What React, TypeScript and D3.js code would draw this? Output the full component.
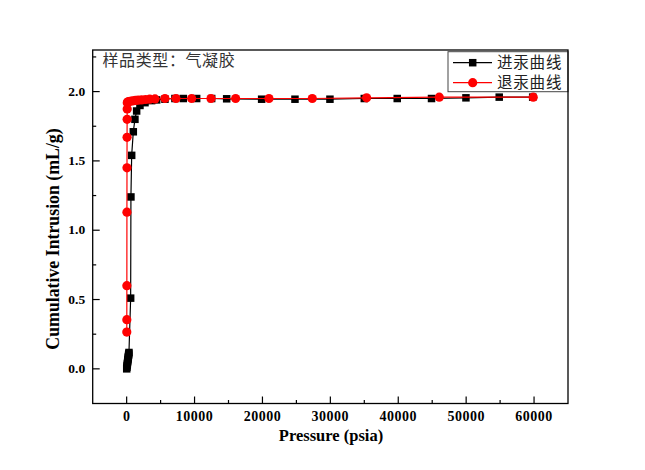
import React from "react";
import * as d3 from "d3";

// Intrusion (pressurising) branch
const intrusionP = [10, 40, 70, 100, 130, 160, 190, 220, 250, 280, 310, 340, 590, 630, 740, 980, 1220, 1470, 1960, 2700, 3680, 4420, 5640, 7110, 8340, 10310, 12520, 14730, 19880, 24790, 29940, 35000, 39850, 44900, 49970, 54870, 59800];
const intrusionV = [0.0, 0.012, 0.024, 0.035, 0.046, 0.057, 0.067, 0.078, 0.088, 0.098, 0.108, 0.118, 0.51, 1.24, 1.54, 1.71, 1.80, 1.86, 1.90, 1.92, 1.935, 1.94, 1.945, 1.95, 1.95, 1.95, 1.95, 1.948, 1.945, 1.945, 1.945, 1.95, 1.95, 1.95, 1.955, 1.96, 1.96];

// Extrusion (depressurising) branch
const extrusionP = [59880, 46040, 35340, 27340, 20960, 16050, 12420, 9570, 7260, 5640, 4170, 3400, 2800, 2210, 1700, 1300, 1000, 750, 500, 300, 150, 90, 80, 70, 60, 50, 40, 30, 25, 20];
const extrusionV = [1.96, 1.96, 1.955, 1.95, 1.95, 1.95, 1.95, 1.95, 1.95, 1.95, 1.947, 1.945, 1.943, 1.94, 1.938, 1.936, 1.934, 1.932, 1.93, 1.928, 1.925, 1.92, 1.875, 1.80, 1.67, 1.45, 1.13, 0.60, 0.355, 0.265];

const xMajorTicks = [0, 10000, 20000, 30000, 40000, 50000, 60000];
const xMinorTicks = [5000, 15000, 25000, 35000, 45000, 55000];
const yMajorTicks = [0, 0.5, 1.0, 1.5, 2.0];
const yMinorTicks = [0.25, 0.75, 1.25, 1.75, 2.25];

const sampleLabel = "样品类型：气凝胶";
const seriesNames = ["进汞曲线", "退汞曲线"];
const xTitle = "Pressure (psia)";
const yTitle = "Cumulative Intrusion (mL/g)";

const W = 645;
const H = 470;
const M = { left: 92.7, right: 568, top: 50, bottom: 403.5 };

export default function App() {
  const x = d3.scaleLinear().domain([-5000, 65000]).range([M.left, M.right]);
  const y = d3.scaleLinear().domain([-0.25, 2.3]).range([M.bottom, M.top]);

  const line = d3
    .line<[number, number]>()
    .x((d) => x(d[0]))
    .y((d) => y(d[1]));

  const intr: [number, number][] = intrusionP.map((p, i) => [p, intrusionV[i]]);
  const extr: [number, number][] = extrusionP.map((p, i) => [p, extrusionV[i]]);

  const serif = "'Times New Roman', 'Liberation Serif', serif";
  const cjk = "'Noto Sans CJK SC', sans-serif";
  const sq = 7.5;

  return (
    <svg
      width={W}
      height={H}
      style={{ position: "absolute", left: 0, top: 0, background: "#fff" }}
    >
      <rect x={0} y={0} width={W} height={H} fill="#fff" />
      <defs>
        <clipPath id="plot-clip">
          <rect x={M.left} y={M.top} width={M.right - M.left} height={M.bottom - M.top} />
        </clipPath>
      </defs>

      {/* ticks on bottom axis */}
      {xMajorTicks.map((t) => (
        <line key={"xM" + t} x1={x(t)} x2={x(t)} y1={M.bottom} y2={M.bottom - 7} stroke="#000" strokeWidth={1.2} />
      ))}
      {xMinorTicks.map((t) => (
        <line key={"xm" + t} x1={x(t)} x2={x(t)} y1={M.bottom} y2={M.bottom - 3.5} stroke="#000" strokeWidth={1.2} />
      ))}
      {xMajorTicks.map((t) => (
        <text key={"xl" + t} x={x(t)} y={M.bottom + 17.5} textAnchor="middle" fontFamily={serif} fontWeight="bold" fontSize={14} letterSpacing={0.5} fill="#000">
          {t}
        </text>
      ))}

      {/* ticks on left axis */}
      {yMajorTicks.map((t) => (
        <line key={"yM" + t} x1={M.left} x2={M.left + 7} y1={y(t)} y2={y(t)} stroke="#000" strokeWidth={1.2} />
      ))}
      {yMinorTicks.map((t) => (
        <line key={"ym" + t} x1={M.left} x2={M.left + 3.5} y1={y(t)} y2={y(t)} stroke="#000" strokeWidth={1.2} />
      ))}
      {yMajorTicks.map((t) => (
        <text key={"yl" + t} x={M.left - 7.5} y={y(t) + 4.2} textAnchor="end" fontFamily={serif} fontWeight="bold" fontSize={13.5} fill="#000">
          {t.toFixed(1)}
        </text>
      ))}

      {/* axis titles */}
      <text x={331} y={440.5} textAnchor="middle" fontFamily={serif} fontWeight="bold" fontSize={16.5} fill="#000">
        {xTitle}
      </text>
      <text
        transform={`translate(59, 239) rotate(-90)`}
        textAnchor="middle"
        fontFamily={serif}
        fontWeight="bold"
        fontSize={17.8}
        fill="#000"
      >
        {yTitle}
      </text>

      {/* data */}
      <g clipPath="url(#plot-clip)">
        <path d={line(intr) ?? ""} fill="none" stroke="#000" strokeWidth={1.2} />
        {intr.map((d, i) => (
          <rect key={"s" + i} x={x(d[0]) - sq / 2} y={y(d[1]) - sq / 2} width={sq} height={sq} fill="#000" />
        ))}
        <path d={line(extr) ?? ""} fill="none" stroke="#ff0000" strokeWidth={1.2} />
        {extr.map((d, i) => (
          <circle key={"c" + i} cx={x(d[0])} cy={y(d[1])} r={4.6} fill="#ff0000" />
        ))}
      </g>

      {/* sample label */}
      <text x={102.5} y={66} fontFamily={cjk} fontSize={16} letterSpacing={0.6} fill="#333">
        {sampleLabel}
      </text>

      {/* legend */}
      <rect x={448} y={51.7} width={M.right - 448} height={40} fill="#fff" stroke="#444" strokeWidth={1} />
      <line x1={453} x2={492} y1={62.7} y2={62.7} stroke="#000" strokeWidth={1.2} />
      <rect x={472.7 - sq / 2} y={62.7 - sq / 2} width={sq} height={sq} fill="#000" />
      <text x={497} y={68.3} fontFamily={cjk} fontSize={15.5} letterSpacing={0.8} fill="#222">
        {seriesNames[0]}
      </text>
      <line x1={453} x2={492} y1={82.7} y2={82.7} stroke="#ff0000" strokeWidth={1.2} />
      <circle cx={472.7} cy={82.7} r={4.6} fill="#ff0000" />
      <text x={497} y={88.3} fontFamily={cjk} fontSize={15.5} letterSpacing={0.8} fill="#222">
        {seriesNames[1]}
      </text>

      {/* frame */}
      <rect x={M.left} y={M.top} width={M.right - M.left} height={M.bottom - M.top} fill="none" stroke="#000" strokeWidth={1.3} />
    </svg>
  );
}
